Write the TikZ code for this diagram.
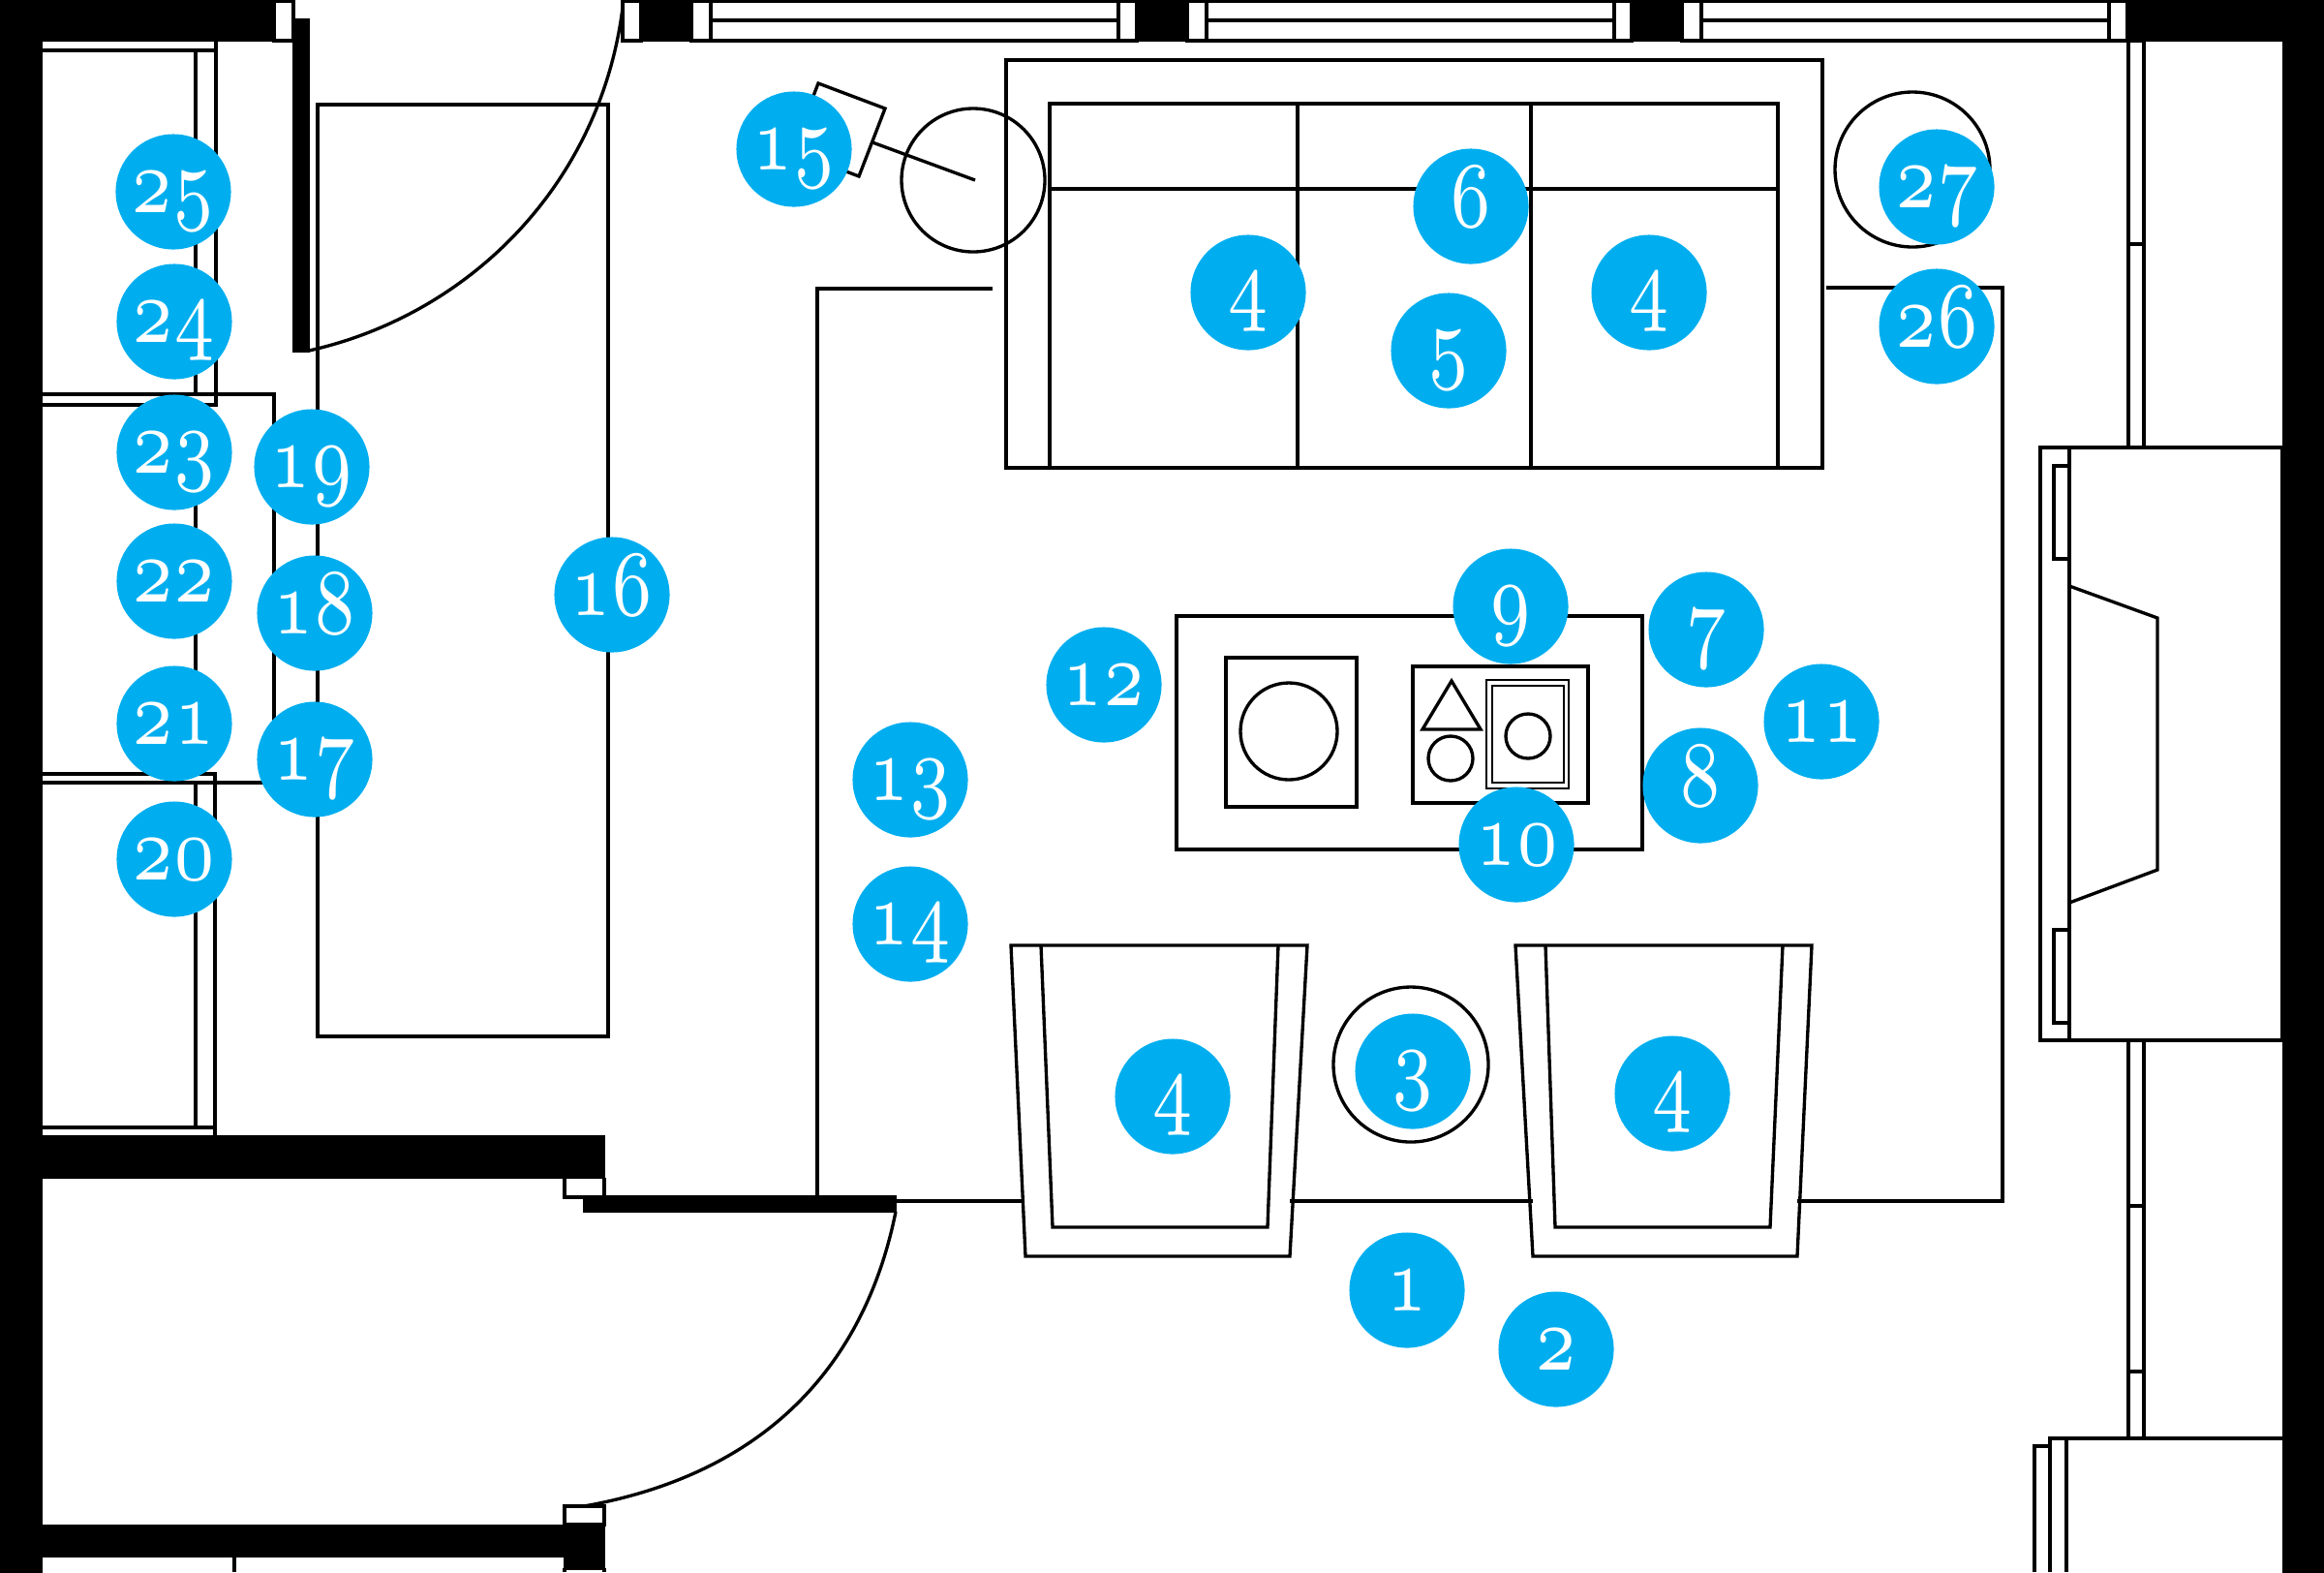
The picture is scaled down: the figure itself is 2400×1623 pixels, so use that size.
\documentclass[tikz,border=0pt]{standalone}
\usepackage{xcolor}
\usetikzlibrary{calc}

\definecolor{markerblue}{HTML}{00AEEF}
\font\markerfont=cmmi7 at 27.5pt

\tikzset{
	plan/.style = {line width = 0.95pt, line join = miter},
	wall/.style = {fill = black, draw = black, line width = 0.3pt},
	frame/.style = {plan, fill = white},
	marker/.style = {circle, fill = markerblue, text = white, inner sep = 0pt, minimum size = 1.19cm,
		text height = 0.43cm, text depth = 0pt, font = \markerfont},
}

\begin{document}
\begin{tikzpicture}[x = 0.01cm, y = -0.01cm]
		\useasboundingbox (0,0) rectangle (2400,1623);
		\clip (0,0) rectangle (2400,1623);
		
		\def\wallH{42};
		\def\midH{21};
		
		% walls
		\fill [wall] (0,0) rectangle (43,1623);
		\fill [wall] (0,0) rectangle (283,\wallH);
		\fill [wall] (2197,0) rectangle (2400,\wallH);
		\fill [wall] (2357,0) rectangle (2400,1623);
		\foreach \xa/\xb in {662/714, 1174/1226, 1685/1737}
			\fill [wall] (\xa,1) rectangle (\xb,\wallH);
		\fill [wall] (0,1173) rectangle (624,1216);
		\fill [wall] (0,1574) rectangle (624,1607);
		\fill [wall] (583,1607) rectangle (624,1619);
		\fill [wall] (303,20) rectangle (319,363);
		\fill [wall] (603,1234) rectangle (925,1251);
		
		% window frames along the top
		\foreach \xa/\xb in {283/303, 643/662, 714/734, 1155/1174, 1226/1246, 1667/1685, 1737/1757, 2178/2197}
			\draw [frame] (\xa,1) rectangle (\xb,\wallH);
		\foreach \xa/\xb in {734/1155, 1246/1667, 1757/2178} {
			\draw [frame] (\xa,1) rectangle (\xb,\wallH);
			\draw [plan] (\xa,\midH) -- (\xb,\midH);
		}
		
		% windows on the right
		\draw [plan] (2198,42) rectangle (2214,462);
		\draw [plan] (2198,252) -- (2214,252);
		\draw [plan] (2198,1074) rectangle (2214,1485);
		\draw [plan] (2198,1245) -- (2214,1245);
		\draw [plan] (2198,1416) -- (2214,1416);
		
		% door frames
		\draw [plan] (624,1216) -- (624,1234);
		\draw [plan] (624,1236) -- (583,1236) -- (583,1216);
		\draw [frame] (583,1555) rectangle (624,1574);
		\draw [plan] (242,1607) -- (242,1623);
		\draw [plan] (583,1619) -- (583,1623);
		\draw [plan] (624,1619) -- (624,1623);
		\draw [plan] (583,1619) -- (624,1619);
		
		% door swings
		\draw [plan] (643,8) .. controls (620,190) and (485,325) .. (319,362);
		\draw [plan] (925,1251) .. controls (895,1400) and (800,1520) .. (603,1555);
		
		% closet
		\draw [plan] (43,52) -- (223,52);
		\draw [plan] (223,42) -- (223,418) -- (43,418);
		\draw [plan] (202,52) -- (202,407);
		\draw [plan] (43,407) -- (283,407) -- (283,808) -- (43,808);
		\draw [plan] (202,418) -- (202,799);
		\draw [plan] (43,799) -- (222,799) -- (222,1173);
		\draw [plan] (202,808) -- (202,1164);
		\draw [plan] (43,1164) -- (222,1164);
		
		% bench by the entrance
		\draw [plan] (328,108) rectangle (628,1070);
		
		% rug
		\draw [plan] (1025,298) -- (844,298) -- (844,1234);
		\draw [plan] (1886,297) -- (2068,297) -- (2068,1240) -- (1856,1240);
		\draw [plan] (925,1240) -- (1058,1240);
		\draw [plan] (1332,1240) -- (1583,1240);
		
		% sofa
		\draw [plan] (1039,62) rectangle (1882,483);
		\draw [plan] (1084,107) rectangle (1836,483);
		\draw [plan] (1084,195) -- (1836,195);
		\draw [plan] (1340,107) -- (1340,483);
		\draw [plan] (1581,107) -- (1581,483);
		
		% lamp and side table
		\draw [plan] (1005,186) circle [radius = 74];
		\draw [plan] (845,86) -- (914,112) -- (887,182) -- (818,156) -- cycle;
		\draw [plan] (901,147) -- (1007,186);
		\draw [plan] (1975,175) circle [radius = 80];
		
		% coffee table
		\draw [plan] (1215,636) rectangle (1696,877);
		\draw [plan] (1266,679) rectangle (1401,833);
		\draw [plan] (1331,755) circle [radius = 50];
		\draw [plan] (1459,688) rectangle (1640,829);
		\draw [plan] (1499,703) -- (1469,753) -- (1529,753) -- cycle;
		\draw [plan] (1498,783) circle [radius = 23];
		\draw [plan, line width = 0.6pt] (1535,702) rectangle (1620,814);
		\draw [plan, line width = 0.6pt] (1541,708) rectangle (1615,808);
		\draw [plan] (1578,760) circle [radius = 23];
		
		% armchairs
		\foreach \dx/\dxb/\dxc in {0/0/0, 521/524/519} {
			\draw [plan] ({1044+\dx},976) -- ({1350+\dx},976) -- ({1332+\dxb},1297) -- ({1059+\dxb},1297) -- cycle;
			\draw [plan] ({1074+\dx+1},976) -- ({1087+\dxc},1267) -- ({1309+\dxc},1267) -- ({1319+\dx+1},976);
		}
		\draw [plan] (1457,1099) circle [radius = 80];
		
		% fireplace
		\draw [plan] (2107,462) rectangle (2357,1074);
		\draw [plan] (2137,462) -- (2137,1074);
		\draw [plan] (2121,481) rectangle (2137,577);
		\draw [plan] (2121,960) rectangle (2137,1056);
		\draw [plan] (2137,605) -- (2228,638) -- (2228,898) -- (2137,932);
		
		% cabinet at the bottom right
		\draw [plan] (2117,1623) -- (2117,1485) -- (2357,1485);
		\draw [plan] (2134,1485) -- (2134,1623);
		\draw [plan] (2101,1623) -- (2101,1493) -- (2117,1493);
		
		% numbered markers
		\foreach \x/\y/\n/\id in {1453/1332/1/one, 1607/1393/2/two, 1459/1106/3/three,
			1211/1132/4/chairA, 1727/1129/4/chairB, 1289/302/4/sofaA, 1703/302/4/sofaB,
			1496/362/5/five, 1519/213/6/six, 1762/650/7/seven, 1756/811/8/eight,
			1560/626/9/nine, 1566/872/10/ten, 1881/745/11/eleven, 1140/707/12/twelve,
			940/805/13/thirteen, 940/954/14/fourteen, 820/154/15/fifteen, 632/614/16/sixteen,
			325/784/17/seventeen, 325/633/18/eighteen, 322/482/19/nineteen, 180/887/20/twenty,
			180/747/21/twentyone, 180/600/22/twentytwo, 180/467/23/twentythree,
			180/332/24/twentyfour, 179/198/25/twentyfive, 2000/337/26/twentysix, 2000/193/27/twentyseven}
			\node [marker] (\id) at (\x,\y) {\scalebox{0.76}[1]{\n}};
	\end{tikzpicture}
\end{document}
